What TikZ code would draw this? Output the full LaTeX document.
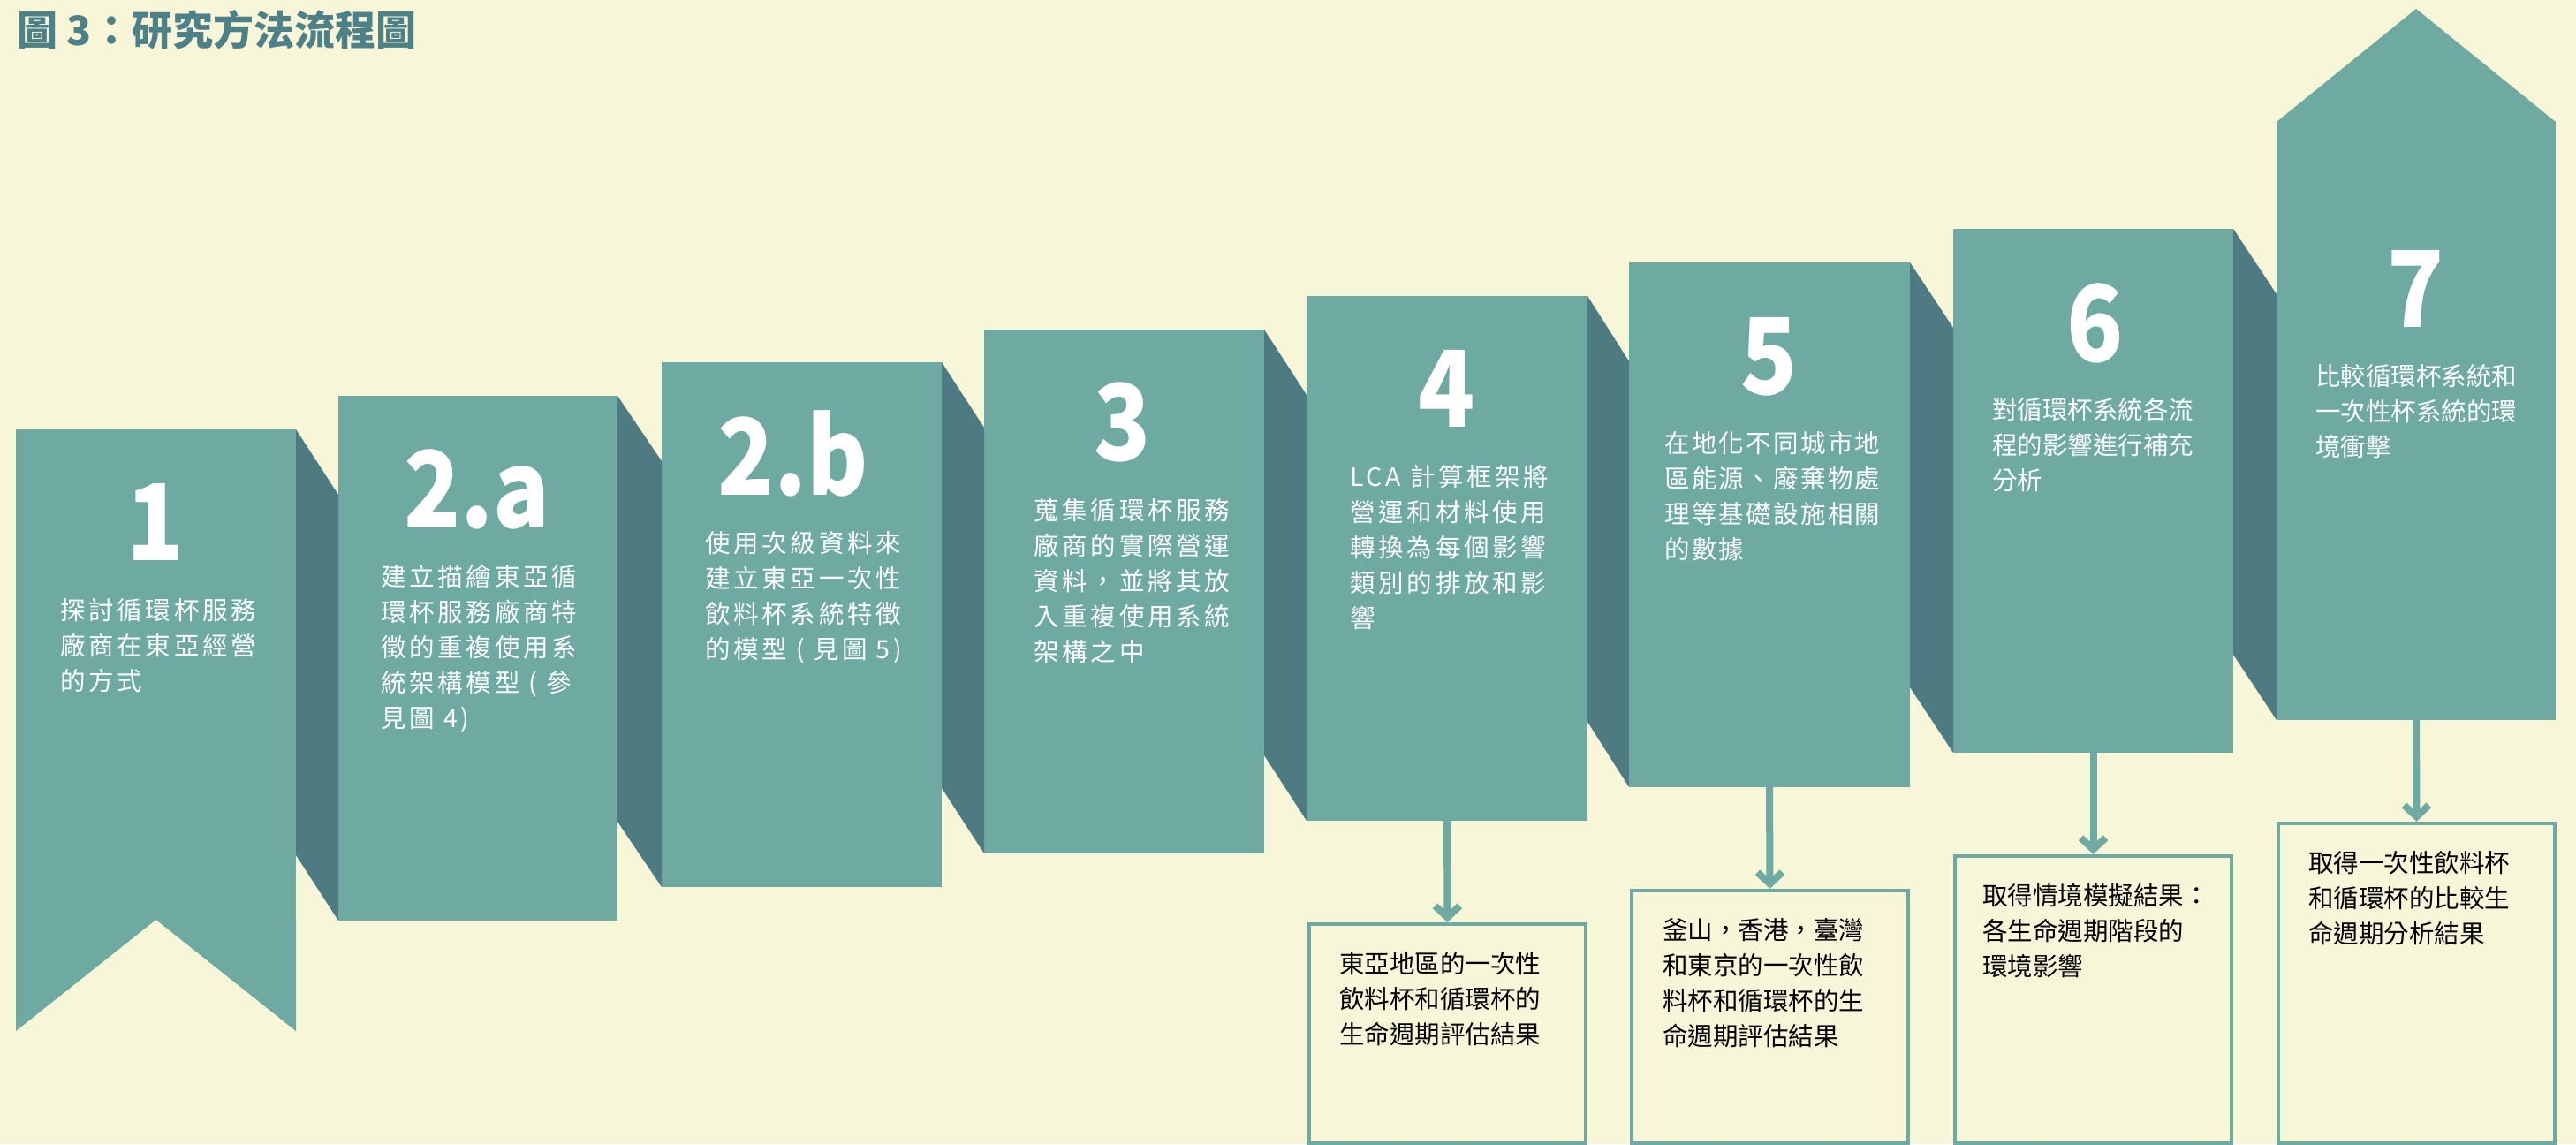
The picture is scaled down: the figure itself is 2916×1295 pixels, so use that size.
\documentclass[tikz,border=0pt]{standalone}
\usepackage{fontspec}
\usetikzlibrary{calc,fit,arrows.meta}
\newfontfamily\cjk{Noto Sans CJK TC}
\newfontfamily\numfont[FakeStretch=0.88]{Noto Sans CJK TC}
\definecolor{bgc}{HTML}{F7F6D8}
\definecolor{panelc}{HTML}{6EAAA2}
\definecolor{sidec}{HTML}{4E7B82}
\definecolor{titlec}{HTML}{4E8088}
\newcommand\firststrut{\rule{0pt}{14pt}}
\begin{document}
\begin{tikzpicture}[x=0.5pt,y=-0.5pt,
  panel/.style={fill=panelc, draw=none, inner sep=0pt, outer sep=0pt},
  sideface/.style={fill=sidec, draw=none},
  numtxt/.style={text=white, inner sep=0pt, anchor=base, font=\numfont\bfseries\fontsize{60}{60}\selectfont},
  ptxt/.style={text=white, inner sep=0pt, anchor=north west, align=left, font=\cjk\addfontfeature{LetterSpace=13}\fontsize{14.25}{20}\selectfont},
  ptxtplain/.style={text=white, inner sep=0pt, anchor=north west, align=left, font=\cjk\fontsize{14.25}{20}\selectfont},
  rtxt/.style={text=black, inner sep=0pt, anchor=north west, align=left, font=\cjk\fontsize{14.25}{20}\selectfont},
  rbox/.style={draw=panelc, line width=2.2pt, inner sep=0pt},
  link/.style={draw=panelc, line width=4pt, -{Straight Barb[length=6.5pt,width=14pt]}}
]
\fill[bgc] (0,0) rectangle (2916,1295);
\useasboundingbox (0,0) rectangle (2916,1295);

% title
\node[anchor=base west, inner sep=0pt, text=titlec, font=\cjk\bfseries\fontsize{23}{23}\selectfont] (title) at (19,52) {圖 3：研究方法流程圖};

% panels
\node[panel, fit={(18,486)(335,1041)}] (p1) {};
\node[panel, fit={(383,448)(699,1042)}] (p2a) {};
\node[panel, fit={(749,410)(1066,1004)}] (p2b) {};
\node[panel, fit={(1114,373)(1431,966)}] (p3) {};
\node[panel, fit={(1479,335)(1797,929)}] (p4) {};
\node[panel, fit={(1844,297)(2162,891)}] (p5) {};
\node[panel, fit={(2211,259)(2528,852)}] (p6) {};
\node[panel, fit={(2577,138)(2893,815)}] (p7) {};

% ribbon tails of panel 1 and roof of panel 7
\fill[panelc] (p1.south west) -- ++(0,126) -- (p1.south) -- ($(p1.south east)+(0,126)$) -- (p1.south east) -- cycle;
\fill[panelc] (p7.north west) -- ($(p7.north)+(0,-128)$) -- (p7.north east) -- cycle;

% dark side faces
\foreach \a/\b in {p1/p2a,p2a/p2b,p2b/p3,p3/p4,p4/p5,p5/p6,p6/p7}{
  \fill[sideface] (\a.north east) -- ($(\a.north east -| \b.west)+(0,74)$) -- (\b.south west) -- ($(\a.east |- \b.south)+(0,-74)$) -- cycle;
}

% numbers
\node[numtxt] (n1) at ($(p1.north west)+(158,148)$) {1};
\node[numtxt] (n2a) at ($(p2a.north west)+(157,149)$) {2.a};
\node[numtxt] (n2b) at ($(p2b.north west)+(149,150)$) {2.b};
\node[numtxt] (n3) at ($(p3.north west)+(157,148)$) {3};
\node[numtxt] (n4) at ($(p4.north west)+(159,148)$) {4};
\node[numtxt] (n5) at ($(p5.north west)+(159,149)$) {5};
\node[numtxt] (n6) at ($(p6.north west)+(161,150)$) {6};
\node[numtxt] (n7) at ($(p7.north west)+(158,232)$) {7};

% panel texts
\node[ptxt] (t1) at ($(p1.north west)+(50,187)$) {\firststrut 探討循環杯服務\\廠商在東亞經營\\的方式};
\node[ptxt] (t2a) at ($(p2a.north west)+(48,187)$) {\firststrut 建立描繪東亞循\\環杯服務廠商特\\徵的重複使用系\\統架構模型 ( 參\\見圖 4)};
\node[ptxt] (t2b) at ($(p2b.north west)+(49,187)$) {\firststrut 使用次級資料來\\建立東亞一次性\\飲料杯系統特徵\\的模型 ( 見圖 5)};
\node[ptxt] (t3) at ($(p3.north west)+(56,187)$) {\firststrut 蒐集循環杯服務\\廠商的實際營運\\資料，並將其放\\入重複使用系統\\架構之中};
\node[ptxt] (t4) at ($(p4.north west)+(49,187)$) {\firststrut LCA 計算框架將\\營運和材料使用\\轉換為每個影響\\類別的排放和影\\響};
\node[ptxt, font=\cjk\addfontfeature{LetterSpace=8}\fontsize{14.25}{20}\selectfont] (t5) at ($(p5.north west)+(40,187)$) {\firststrut 在地化不同城市地\\區能源、廢棄物處\\理等基礎設施相關\\的數據};
\node[ptxtplain] (t6) at ($(p6.north west)+(44,187)$) {\firststrut 對循環杯系統各流\\程的影響進行補充\\分析};
\node[ptxtplain] (t7) at ($(p7.north west)+(44,270)$) {\firststrut 比較循環杯系統和\\一次性杯系統的環\\境衝擊};

% result boxes
\node[rbox, fit={(1482,1046)(1795,1294)}] (r4) {};
\node[rbox, fit={(1847,1008)(2160,1294)}] (r5) {};
\node[rbox, fit={(2213,969)(2526,1294)}] (r6) {};
\node[rbox, fit={(2579,932)(2892,1294)}] (r7) {};

\node[rtxt] (rt4) at ($(r4.north west)+(36,29)$) {\firststrut 東亞地區的一次性\\飲料杯和循環杯的\\生命週期評估結果};
\node[rtxt] (rt5) at ($(r5.north west)+(37,29)$) {\firststrut 釜山，香港，臺灣\\和東京的一次性飲\\料杯和循環杯的生\\命週期評估結果};
\node[rtxt] (rt6) at ($(r6.north west)+(33,29)$) {\firststrut 取得情境模擬結果：\\各生命週期階段的\\環境影響};
\node[rtxt] (rt7) at ($(r7.north west)+(36,29)$) {\firststrut 取得一次性飲料杯\\和循環杯的比較生\\命週期分析結果};

% connectors
\draw[link] (p4.south) -- (r4.north);
\draw[link] (p5.south) -- (r5.north);
\draw[link] (p6.south) -- (r6.north);
\draw[link] (p7.south) -- (r7.north);
\end{tikzpicture}
\end{document}
